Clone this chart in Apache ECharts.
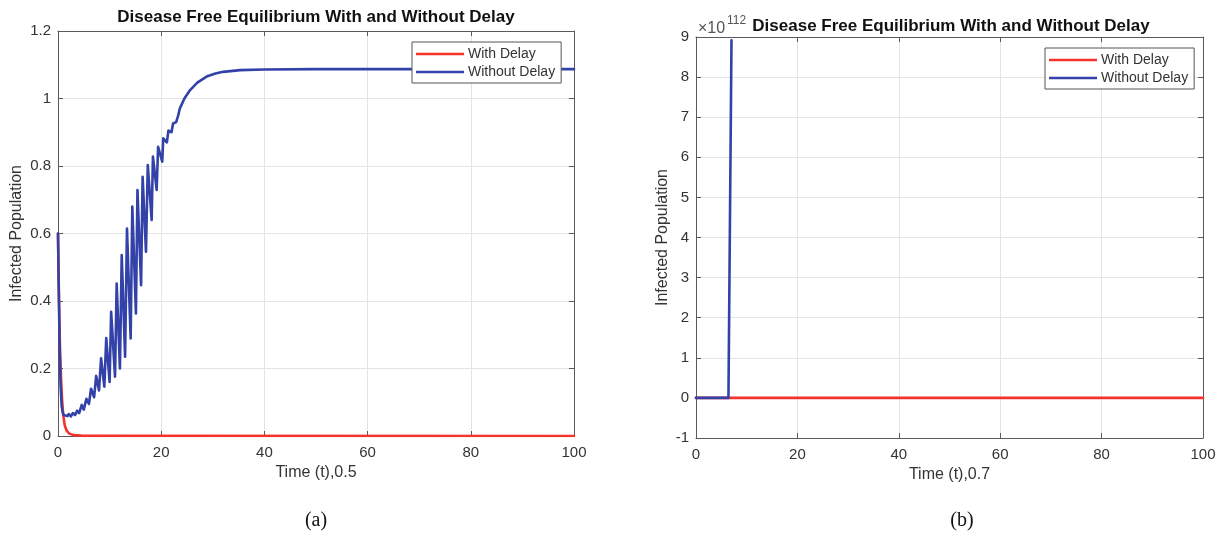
<!DOCTYPE html>
<html>
<head>
<meta charset="utf-8">
<script src="https://cdn.jsdelivr.net/npm/echarts@6/dist/echarts.min.js"></script>
<style>
html,body{margin:0;padding:0;background:#fff;}
#chart{width:1228px;height:538px;}
</style>
</head>
<body>
<div id="chart"></div>
<script>
// ---------- DATA ----------
const titleText = 'Disease Free Equilibrium With and Without Delay';
const seriesNames = ['With Delay', 'Without Delay'];
const xLabelA = 'Time (t),0.5';
const xLabelB = 'Time (t),0.7';
const yLabel = 'Infected Population';
const captions = ['(a)', '(b)'];
const xRange = [0, 100, 20];          // min, max, interval
const yRangeA = [0, 1.2, 0.2];
const yRangeB = [-1, 9, 1];
const expB = '112';

// (a) With delay
const redA = [
  [0, 0.6], [0.2, 0.4], [0.4, 0.25], [0.6, 0.165], [0.8, 0.105], [1.0, 0.065],
  [1.3, 0.032], [1.7, 0.015], [2.2, 0.007], [3, 0.003], [4.5, 0.001], [7, 0.0003], [100, 0]
];
// (a) Without delay
const blueA = [
  [0, 0.6], [0.15, 0.43], [0.3, 0.28], [0.5, 0.15], [0.7, 0.09], [0.9, 0.07],
  [1.1, 0.062], [1.4, 0.057], [1.8, 0.059], [2.1, 0.065], [2.5, 0.058], [2.9, 0.068],
  [3.3, 0.062], [3.7, 0.075], [4.1, 0.068], [4.6, 0.092], [5.0, 0.078], [5.5, 0.11],
  [6.0, 0.095], [6.4, 0.14], [7.0, 0.115], [7.4, 0.178], [7.95, 0.135], [8.35, 0.23],
  [8.98, 0.146], [9.35, 0.29], [10.0, 0.16], [10.3, 0.368], [11.05, 0.176], [11.37, 0.452],
  [12.0, 0.2], [12.35, 0.536], [13.0, 0.235], [13.37, 0.615], [14.08, 0.289], [14.4, 0.68],
  [15.1, 0.363], [15.4, 0.729], [16.1, 0.447], [16.4, 0.768], [17.05, 0.546], [17.4, 0.803],
  [18.15, 0.64], [18.4, 0.828], [19.12, 0.729], [19.4, 0.857], [20.2, 0.813], [20.4, 0.882],
  [21.1, 0.87], [21.4, 0.905], [22.0, 0.9], [22.3, 0.926], [22.9, 0.93], [23.3, 0.95],
  [23.6, 0.97], [24.5, 1.0], [25.6, 1.025], [27, 1.047], [28.8, 1.065], [30.5, 1.074],
  [32, 1.079], [35.3, 1.084], [40, 1.086], [50, 1.087], [100, 1.087]
];
// (b) values in units of 10^112
const redB = [[0, 0], [100, 0]];
const blueB = [[0, 0], [6.4, 0], [7.0, 8.92]];

// ---------- STYLE ----------
const RED = '#f5322c';
const BLUE = '#3242a8';
const AX = '#5a5a5a';
const TXT = '#333333';
const GRIDC = '#e4e4e4';
const FONT = '"Liberation Sans", Arial, Helvetica, sans-serif';

const grids = [
  {left: 58, top: 31, width: 516, height: 405},
  {left: 696, top: 37, width: 507, height: 401}
];

function mkX(gi, range, name, show) {
  return {
    type: 'value', gridIndex: gi, min: range[0], max: range[1], interval: range[2],
    position: show ? 'bottom' : 'top',
    name: show ? name : '', nameLocation: 'middle', nameGap: 28,
    nameTextStyle: {fontFamily: FONT, fontSize: 16, color: TXT},
    axisLine: {show: true, onZero: false, lineStyle: {color: AX, width: 1}},
    axisTick: {show: true, inside: true, length: 5, lineStyle: {color: AX}},
    axisLabel: {show: show, margin: 9, fontFamily: FONT, fontSize: 15, color: TXT},
    splitLine: {show: show, lineStyle: {color: GRIDC, width: 1}}
  };
}
function mkY(gi, range, name, show, gap) {
  return {
    type: 'value', gridIndex: gi, min: range[0], max: range[1], interval: range[2],
    position: show ? 'left' : 'right',
    name: show ? name : '', nameLocation: 'middle', nameGap: gap,
    nameTextStyle: {fontFamily: FONT, fontSize: 16, color: TXT},
    axisLine: {show: true, onZero: false, lineStyle: {color: AX, width: 1}},
    axisTick: {show: true, inside: true, length: 5, lineStyle: {color: AX}},
    axisLabel: {show: show, margin: 7, fontFamily: FONT, fontSize: 15, color: TXT},
    splitLine: {show: show, lineStyle: {color: GRIDC, width: 1}}
  };
}

function mkSeries(name, data, color, xi, yi, z) {
  return {
    type: 'line', name: name, data: data, xAxisIndex: xi, yAxisIndex: yi,
    showSymbol: false, symbol: 'none', smooth: false, z: z,
    lineStyle: {color: color, width: 2.6, join: 'round', cap: 'round'}, itemStyle: {color: color},
    animation: false
  };
}

function mkLegend(left, top) {
  return {
    left: left, top: top, orient: 'vertical', data: seriesNames,
    icon: 'rect', itemWidth: 48, itemHeight: 2.5, itemGap: 4,
    padding: [5, 6, 4, 4], borderColor: '#555', borderWidth: 1,
    backgroundColor: '#fff', selectedMode: false,
    textStyle: {fontFamily: FONT, fontSize: 14, color: TXT, padding: [0, 0, 0, -1]}
  };
}

const option = {
  animation: false,
  backgroundColor: '#fff',
  grid: grids,
  xAxis: [
    mkX(0, xRange, xLabelA, true), mkX(1, xRange, xLabelB, true),
    mkX(0, xRange, '', false), mkX(1, xRange, '', false)
  ],
  yAxis: [
    mkY(0, yRangeA, yLabel, true, 33), mkY(1, yRangeB, yLabel, true, 25),
    mkY(0, yRangeA, '', false, 0), mkY(1, yRangeB, '', false, 0)
  ],
  legend: [mkLegend(412, 42), mkLegend(1045, 48)],
  series: [
    mkSeries(seriesNames[0], redA, RED, 0, 0, 2),
    mkSeries(seriesNames[1], blueA, BLUE, 0, 0, 3),
    mkSeries(seriesNames[0], redB, RED, 1, 1, 2),
    mkSeries(seriesNames[1], blueB, BLUE, 1, 1, 3)
  ],
  graphic: [
    {type: 'text', style: {text: titleText, x: 316, y: 17, textAlign: 'center', textVerticalAlign: 'middle',
      font: 'bold 17px ' + FONT, fill: '#111'}},
    {type: 'text', style: {text: titleText, x: 951, y: 26, textAlign: 'center', textVerticalAlign: 'middle',
      font: 'bold 17px ' + FONT, fill: '#111'}},
    {type: 'text', style: {text: '\u00d710', x: 698, y: 29, textAlign: 'left', textVerticalAlign: 'middle',
      font: '16px ' + FONT, fill: '#555'}},
    {type: 'text', style: {text: expB, x: 727, y: 21, textAlign: 'left', textVerticalAlign: 'middle',
      font: '12px ' + FONT, fill: '#555'}},
    {type: 'text', style: {text: captions[0], x: 316, y: 521, textAlign: 'center', textVerticalAlign: 'middle',
      font: '20px "Liberation Serif", "Times New Roman", serif', fill: '#111'}},
    {type: 'text', style: {text: captions[1], x: 962, y: 521, textAlign: 'center', textVerticalAlign: 'middle',
      font: '20px "Liberation Serif", "Times New Roman", serif', fill: '#111'}}
  ]
};

const chart = echarts.init(document.getElementById('chart'), null, {renderer: 'canvas'});
chart.setOption(option);
</script>
</body>
</html>
